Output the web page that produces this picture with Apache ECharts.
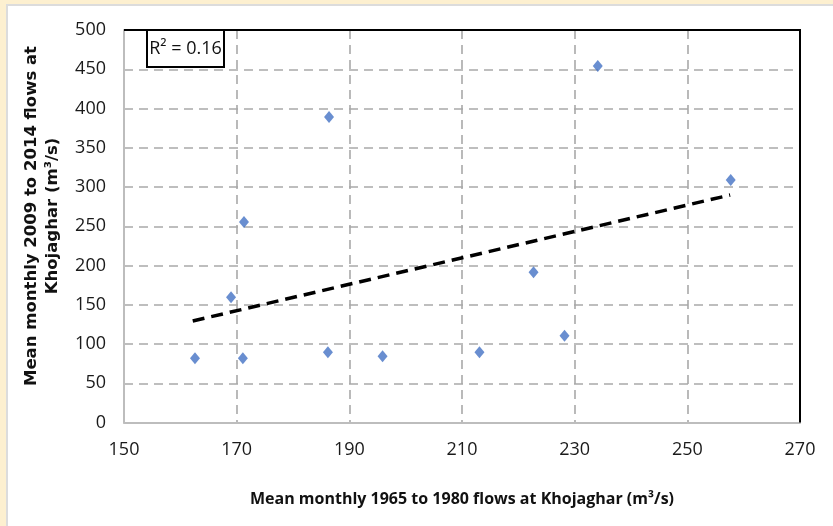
<!DOCTYPE html>
<html>
<head>
<meta charset="utf-8">
<script src="https://cdn.jsdelivr.net/npm/echarts@6/dist/echarts.min.js"></script>
<style>
  html, body { margin: 0; padding: 0; background: #fdf0d0; }
  #panel { position: absolute; left: 6px; top: 4px; right: 0; bottom: 0; background: #fff;
           border-left: 2px solid #dcdcdc; border-top: 2px solid #dcdcdc; }
  #chart { position: absolute; left: 0; top: 0; width: 833px; height: 526px; }
</style>
</head>
<body>
<div id="panel"></div>
<div id="chart"></div>
<script>
// flows 1965-1980 (x) vs 2009-2014 (y), m3/s
var flows1965 = [162.6, 169.0, 171.1, 171.3, 186.2, 186.4, 195.9, 213.1, 222.7, 228.2, 234.1, 257.7];
var flows2009 = [81.8, 159.5, 81.8, 255.4, 89.4, 389.2, 84.3, 89.4, 191.3, 110.6, 454.1, 308.9];
// trendline end points as drawn
var trendX = [162.2, 257.6];
var trendY = [129.3, 289.8];
var xTicks = [150, 170, 190, 210, 230, 250, 270];
var yTicks = [0, 50, 100, 150, 200, 250, 300, 350, 400, 450, 500];

document.addEventListener("DOMContentLoaded", () => {
    var narrow = '"Liberation Sans Narrow", "Open Sans", sans-serif';
    var gridLine = { show: true, lineStyle: { color: '#a9a9a9', width: 1.6, type: [9, 6] } };

    echarts.init(document.querySelector("#chart")).setOption({
        backgroundColor: 'transparent',
        animation: false,
        grid: { left: 124, top: 30, width: 676, height: 392.5 },
        xAxis: {
            type: 'value',
            min: xTicks[0], max: xTicks[xTicks.length - 1], interval: 20,
            axisLine: { lineStyle: { color: '#bdbdbd', width: 2 } },
            axisTick: { show: false },
            splitLine: gridLine,
            axisLabel: { margin: 18, fontFamily: narrow, fontSize: 18, color: '#1a1a1a' },
            name: 'Mean monthly 1965 to 1980 flows at Khojaghar (m³/s)',
            nameLocation: 'middle',
            nameGap: 69,
            nameTextStyle: { fontFamily: narrow, fontWeight: 'bold', fontSize: 16, color: '#111' }
        },
        yAxis: {
            type: 'value',
            min: yTicks[0], max: yTicks[yTicks.length - 1], interval: 50,
            axisLine: { show: true, lineStyle: { color: '#bdbdbd', width: 2 } },
            axisTick: { show: false },
            splitLine: gridLine,
            axisLabel: { margin: 18, fontFamily: narrow, fontSize: 18, color: '#1a1a1a' }
        },
        graphic: [
            { // black frame on top and right
                type: 'polyline', z: 50,
                shape: { points: [[124, 30], [800, 30], [800, 422.5]] },
                style: { stroke: '#000', lineWidth: 2, fill: null }
            },
            { // R2 label box
                type: 'rect', z: 60,
                shape: { x: 147, y: 30, width: 77, height: 37 },
                style: { fill: '#fff', stroke: '#000', lineWidth: 2 }
            },
            {
                type: 'text', z: 61, x: 185.5, y: 49,
                style: { text: 'R² = 0.16', font: '18px ' + narrow, fill: '#111',
                         textAlign: 'center', textVerticalAlign: 'middle' }
            },
            { // y axis title
                type: 'text', z: 61, x: 42, y: 216, rotation: Math.PI / 2,
                style: { text: 'Mean monthly 2009 to 2014 flows at\nKhojaghar (m³/s)',
                         font: 'bold 16.5px "DejaVu Sans", sans-serif', fill: '#111',
                         lineHeight: 21, textAlign: 'center', textVerticalAlign: 'middle' }
            }
        ],
        series: [
            {
                type: 'scatter',
                symbol: 'diamond',
                symbolSize: [10, 12],
                itemStyle: { color: '#4472c4' },
                data: flows1965.map((x, i) => [x, flows2009[i]]),
                z: 5
            },
            {
                type: 'line',
                symbol: 'none',
                data: trendX.map((x, i) => [x, trendY[i]]),
                lineStyle: { color: '#000', width: 3.5, type: [12, 7] },
                z: 4
            }
        ]
    });
});
</script>
</body>
</html>
